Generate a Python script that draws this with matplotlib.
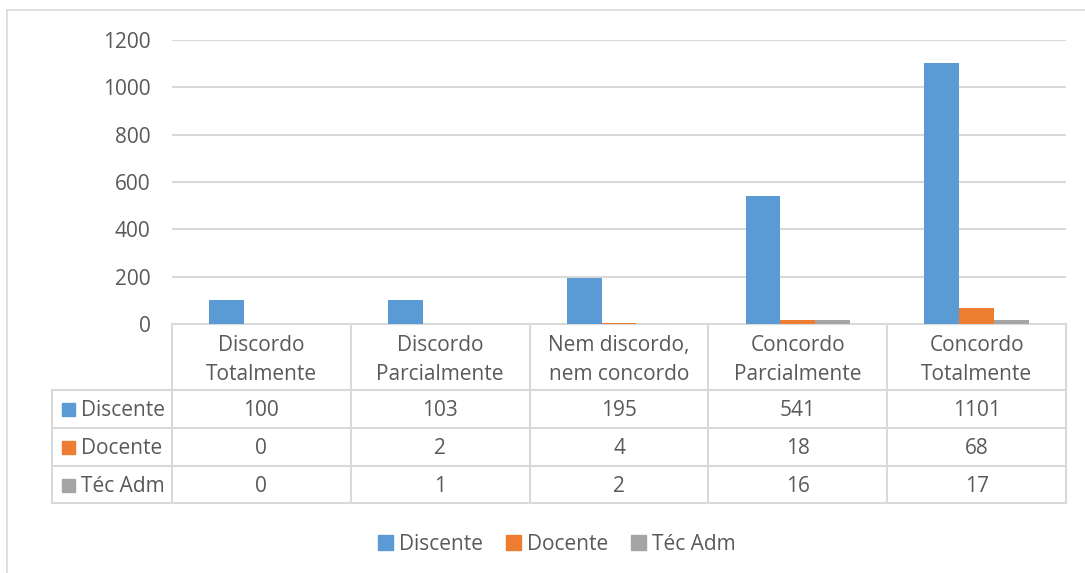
import matplotlib.pyplot as plt
import matplotlib.patches as mpatches
from matplotlib.lines import Line2D
import numpy as np

# ── Data ───────────────────────────────────────────────────────────────────
categories = ['Discordo\nTotalmente', 'Discordo\nParcialmente', 'Nem discordo,\nnem concordo',
              'Concordo\nParcialmente', 'Concordo\nTotalmente']
series_names = ['Discente', 'Docente', 'Téc Adm']
discente = [100, 103, 195, 541, 1101]
docente = [0, 2, 4, 18, 68]
tec_adm = [0, 1, 2, 16, 17]
y_ticks = [0, 200, 400, 600, 800, 1000, 1200]

colors = ['#5B9BD5', '#ED7D31', '#A5A5A5']
TXT = '#595959'
GRID = '#D9D9D9'

plt.rcParams['font.family'] = ['Open Sans', 'DejaVu Sans']
FS = 15

W, H = 1085, 573
fig = plt.figure(figsize=(W / 100, H / 100), dpi=100)

# plot area in pixels
L, R, T, B = 172, 1066, 40, 324
ax = fig.add_axes([L / W, 1 - B / H, (R - L) / W, (B - T) / H])

x = np.arange(len(categories))
bw = 0.195
for i, vals in enumerate([discente, docente, tec_adm]):
    ax.bar(x + (i - 1) * bw, vals, bw, color=colors[i], zorder=3)

ax.set_xlim(-0.5, len(categories) - 0.5)
ax.set_ylim(0, 1200)
ax.set_yticks(y_ticks)
ax.set_yticklabels([str(v) for v in y_ticks], fontsize=FS, color=TXT)
ax.tick_params(axis='y', length=0, pad=15.5)
ax.set_xticks([])
ax.grid(axis='y', color=GRID, linewidth=1.5, zorder=0)
for s in ['top', 'right', 'left', 'bottom']:
    ax.spines[s].set_visible(False)

# ── Data table (overlay axes in pixel coords) ──────────────────────────────
ov = fig.add_axes([0, 0, 1, 1], zorder=-1)
ov.set_xlim(0, W)
ov.set_ylim(H, 0)
ov.axis('off')

col_w = (R - L) / len(categories)
col_edges = [L + k * col_w for k in range(len(categories) + 1)]
rows_y = [324, 390, 428, 466, 503]
lbl_left = 52

def hline(y, x0, x1):
    ov.add_line(Line2D([x0, x1], [y, y], color=GRID, lw=1.5))

def vline(xp, y0, y1):
    ov.add_line(Line2D([xp, xp], [y0, y1], color=GRID, lw=1.5))

hline(rows_y[0], L, R)
for y in rows_y[1:]:
    hline(y, lbl_left, R)
for xe in col_edges:
    vline(xe, rows_y[0], rows_y[-1])
vline(lbl_left, rows_y[1], rows_y[-1])

for k, cat in enumerate(categories):
    cx = L + (k + 0.5) * col_w
    ov.text(cx, 360, cat, ha='center', va='center',
            fontsize=FS, color=TXT, linespacing=1.55)

for r, (name, vals) in enumerate(zip(series_names, [discente, docente, tec_adm])):
    cy = (rows_y[r + 1] + rows_y[r + 2]) / 2 + 1.5
    ov.add_patch(mpatches.Rectangle((62, cy - 7.5), 13, 13, color=colors[r]))
    ov.text(81, cy, name, ha='left', va='center', fontsize=FS, color=TXT)
    for k, v in enumerate(vals):
        cx = L + (k + 0.5) * col_w
        ov.text(cx, cy, str(v), ha='center', va='center', fontsize=FS, color=TXT)

# chart frame
ov.add_line(Line2D([7, 7], [10, H], color=GRID, lw=1.2))
ov.add_line(Line2D([7, W], [10, 10], color=GRID, lw=1.2))

# ── Legend ─────────────────────────────────────────────────────────────────
handles = [mpatches.Patch(color=c, label=n) for c, n in zip(colors, series_names)]
leg = fig.legend(handles=handles, loc='center', bbox_to_anchor=(557 / W, 1 - 544 / H),
                 ncol=3, frameon=False, fontsize=FS, handlelength=0.7, handleheight=0.7,
                 handletextpad=0.3, columnspacing=1.1)
for t in leg.get_texts():
    t.set_color(TXT)

fig.savefig('out.png', dpi=100)
